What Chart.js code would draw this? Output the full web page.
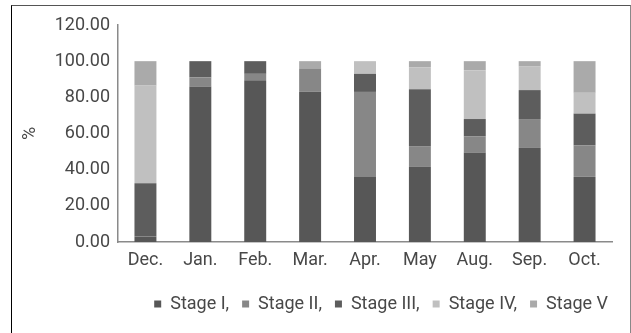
<!DOCTYPE html>
<html>
<head>
<meta charset="utf-8">
<script src="https://cdn.jsdelivr.net/npm/chart.js@4/dist/chart.umd.min.js"></script>
<style>
  html, body { margin: 0; padding: 0; background: #fff; }
  #wrap { position: relative; width: 631px; height: 333px; }
  #frame {
    position: absolute; left: 11px; top: 5px; width: 618px; height: 340px;
    border-left: 1px solid #000; border-top: 1px solid #555; border-right: 1px solid #888;
  }
  canvas { position: absolute; left: 0; top: 0; }
</style>
</head>
<body>
<div id="wrap">
  <div id="frame"></div>
  <canvas id="stageChart" width="631" height="333"></canvas>
</div>
<script>
const ctx = document.getElementById('stageChart').getContext('2d');

// Monthly share of each stage (%)
const months = ['Dec.', 'Jan.', 'Feb.', 'Mar.', 'Apr.', 'May', 'Aug.', 'Sep.', 'Oct.'];
const stageI   = [3, 86, 89.5, 83, 36, 41.5, 49.5, 52, 36];
const stageII  = [0, 5, 3.5, 13, 47, 11.5, 9, 16, 17.5];
const stageIII = [29.5, 9, 7, 0, 10, 31.5, 9.5, 16, 17.5];
const stageIV  = [54, 0, 0, 0, 7, 12, 27, 13, 11.5];
const stageV   = [13.5, 0, 0, 4, 0, 3.5, 5, 3, 17.5];

const yTicks = [0, 20, 40, 60, 80, 100, 120];

const font = { family: 'Roboto', size: 18 };
const textColor = '#484848';

function series(label, values, color) {
  return {
    label: label,
    data: values,
    backgroundColor: color,
    borderWidth: 0,
    barPercentage: 0.8,
    categoryPercentage: 0.5
  };
}

// nudge the legend row a little to the right
const legendShift = {
  id: 'legendShift',
  afterLayout(chart) {
    chart.legend.left += 9;
    chart.legend.right += 9;
  }
};

new Chart(ctx, {
  type: 'bar',
  data: {
    labels: months,
    datasets: [
      series('Stage I,', stageI, '#575757'),
      series('Stage II,', stageII, '#878787'),
      series('Stage III,', stageIII, '#5d5d5d'),
      series('Stage IV,', stageIV, '#c0c0c0'),
      series('Stage V', stageV, '#aaaaaa')
    ]
  },
  plugins: [legendShift],
  options: {
    responsive: false,
    animation: false,
    layout: { padding: { left: 20, right: 19, top: 25, bottom: 10 } },
    plugins: {
      tooltip: { enabled: false },
      legend: {
        position: 'bottom',
        align: 'end',
        labels: {
          font: font,
          color: textColor,
          boxWidth: 7,
          boxHeight: 7,
          padding: 13
        }
      }
    },
    scales: {
      x: {
        stacked: true,
        grid: { display: false },
        border: { color: '#8a8a8a', width: 1.5 },
        ticks: { font: font, color: textColor, padding: 0 },
        afterFit: scale => { scale.height = 40; }
      },
      y: {
        stacked: true,
        min: yTicks[0],
        max: yTicks[yTicks.length - 1],
        grid: { display: false },
        border: { color: '#8a8a8a', width: 1.5 },
        afterBuildTicks: scale => { scale.ticks = yTicks.map(v => ({ value: v })); },
        ticks: {
          font: font,
          color: textColor,
          padding: 0,
          callback: v => v.toFixed(2)
        },
        title: {
          display: true,
          text: '%',
          font: font,
          color: textColor,
          padding: 0
        },
        afterFit: scale => { scale.width = 98; }
      }
    }
  }
});
</script>
</body>
</html>
